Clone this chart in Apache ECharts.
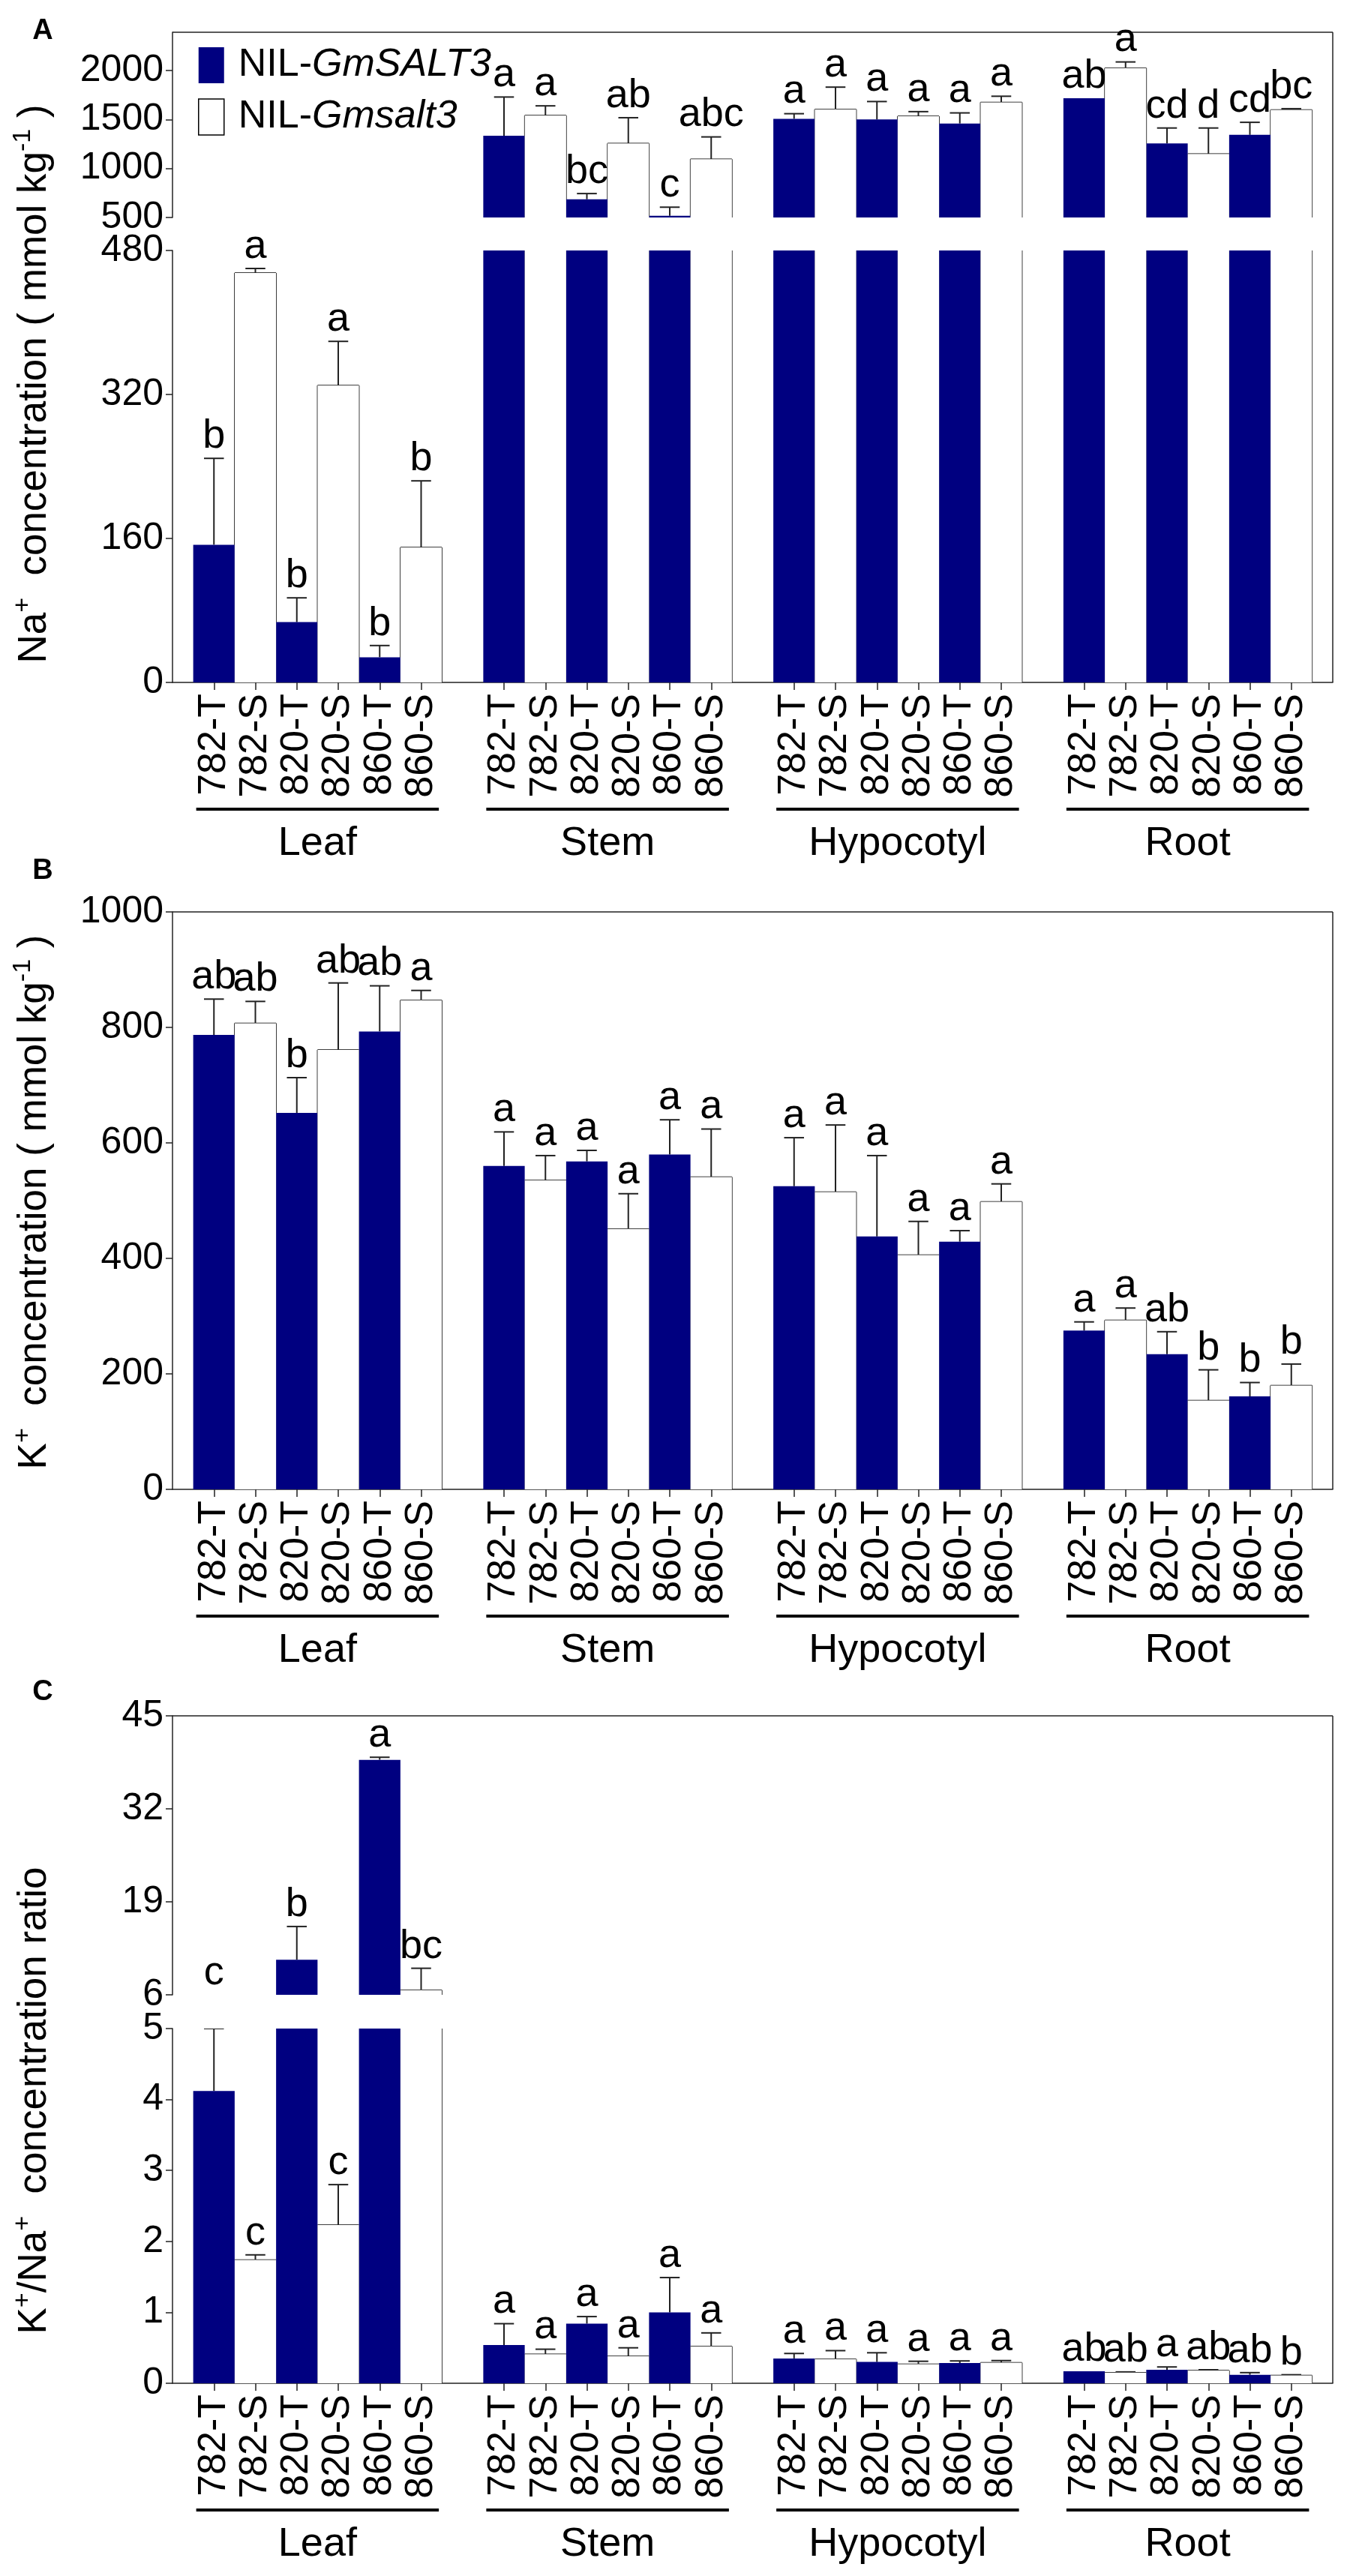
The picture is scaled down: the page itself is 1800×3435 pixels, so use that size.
<!DOCTYPE html>
<html>
<head>
<meta charset="utf-8">
<script src="https://cdn.jsdelivr.net/npm/echarts@6/dist/echarts.min.js"></script>
<style>
  html, body { margin: 0; padding: 0; background: #fff; }
  #chart { width: 1800px; height: 3435px; }
</style>
</head>
<body>
<div id="chart"></div>
<script>
const tissues = ['Leaf', 'Stem', 'Hypocotyl', 'Root'];
const lines = ['782-T', '782-S', '820-T', '820-S', '860-T', '860-S'];

// A: Na+ concentration (mmol/kg), tissue by tissue, same order as lines
const naMean = [153, 455, 67, 330, 28, 150,
  1335, 1541, 686, 1255, 518, 1095,
  1507, 1603, 1500, 1533, 1459, 1675,
  1716, 2025, 1255, 1149, 1343, 1598];
const naErr = [96, 5, 27, 49, 13, 74,
  394, 98, 58, 263, 87, 227,
  52, 227, 183, 47, 108, 62,
  0, 62, 158, 264, 128, 12];
const naSig = ['b', 'a', 'b', 'a', 'b', 'b',
  'a', 'a', 'bc', 'ab', 'c', 'abc',
  'a', 'a', 'a', 'a', 'a', 'a',
  'ab', 'a', 'cd', 'd', 'cd', 'bc'];

// B: K+ concentration (mmol/kg)
const kMean = [787, 807, 652, 761, 793, 847,
  560, 535, 568, 451, 580, 541,
  525, 515, 438, 406, 429, 498,
  275, 293, 234, 154, 161, 180];
const kErr = [62, 38, 61, 116, 79, 17,
  59, 43, 19, 61, 60, 83,
  84, 116, 140, 58, 19, 31,
  15, 21, 39, 53, 24, 37];
const kSig = ['ab', 'ab', 'b', 'ab', 'ab', 'a',
  'a', 'a', 'a', 'a', 'a', 'a',
  'a', 'a', 'a', 'a', 'a', 'a',
  'a', 'a', 'ab', 'b', 'b', 'b'];

// C: K+/Na+ ratio
const ratioMean = [4.12, 1.74, 10.9, 2.23, 38.85, 6.66,
  0.54, 0.41, 0.84, 0.38, 1.0, 0.52,
  0.35, 0.34, 0.30, 0.27, 0.285, 0.29,
  0.17, 0.15, 0.19, 0.18, 0.12, 0.11];
const ratioErr = [0.88, 0.07, 4.65, 0.57, 0.36, 3.05,
  0.30, 0.07, 0.10, 0.12, 0.49, 0.19,
  0.07, 0.12, 0.13, 0.04, 0.03, 0.03,
  0, 0.01, 0.04, 0.01, 0.03, 0.01];
const ratioSig = ['c', 'c', 'b', 'c', 'a', 'bc',
  'a', 'a', 'a', 'a', 'a', 'a',
  'a', 'a', 'a', 'a', 'a', 'a',
  'ab', 'ab', 'a', 'ab', 'ab', 'b'];

// tick labels
const naTicksHigh = [500, 1000, 1500, 2000];
const naTicksLow = [0, 160, 320, 480];
const kTicks = [0, 200, 400, 600, 800, 1000];
const ratioTicksHigh = [6, 19, 32, 45];
const ratioTicksLow = [0, 1, 2, 3, 4, 5];

const FONT = '"Liberation Sans", Arial, sans-serif';
const AXIS = '#222';
const BLUE = '#000080';
const X0 = 230, X1 = 1777;

// category slots: one empty slot before each tissue and at the end
const slots = ['pad-0'];
tissues.forEach((t, ti) => {
  lines.forEach(l => slots.push(t + '|' + l));
  slots.push('pad-' + (ti + 1));
});
const slotOf = (t, j) => 1 + 7 * t + j;

const panels = [
  { mean: naMean, err: naErr, sig: naSig, parts: [
    { top: 43, bottom: 290, ticks: naTicksHigh, max: 2390 },
    { top: 334, bottom: 910, ticks: naTicksLow }
  ] },
  { mean: kMean, err: kErr, sig: kSig, parts: [
    { top: 1216, bottom: 1986, ticks: kTicks }
  ] },
  { mean: ratioMean, err: ratioErr, sig: ratioSig, parts: [
    { top: 2288, bottom: 2660, ticks: ratioTicksHigh },
    { top: 2705, bottom: 3178, ticks: ratioTicksLow }
  ] }
];

const grid = [], xAxis = [], yAxis = [], series = [];

// which half of a broken axis gets the letter for a given error-bar top
function pickPart(panel, v) {
  if (panel.parts.length === 1) return { idx: 0, value: v };
  const high = panel.parts[0], low = panel.parts[1];
  if (v >= low.max - 1e-6) return { idx: 0, value: Math.max(v, high.min) };
  return { idx: 1, value: v };
}

panels.forEach(panel => {
  panel.parts.forEach(part => {
    part.min = part.ticks[0];
    if (part.max == null) part.max = part.ticks[part.ticks.length - 1];
  });
  panel.parts.forEach((part, pi) => {
    const g = grid.length;
    const isBottom = pi === panel.parts.length - 1;
    grid.push({ left: X0, width: X1 - X0, top: part.top, height: part.bottom - part.top });
    xAxis.push({
      gridIndex: g, type: 'category', data: slots, boundaryGap: false,
      axisLine: { show: isBottom, onZero: false, lineStyle: { color: AXIS, width: 1.5 } },
      axisTick: { show: isBottom, length: 10, interval: (i, v) => v.includes('|'),
        lineStyle: { color: AXIS, width: 1.5 } },
      axisLabel: { show: isBottom, interval: 0, rotate: 90, margin: 15,
        fontSize: 52, fontFamily: FONT, color: '#000',
        formatter: v => v.includes('|') ? v.split('|')[1] : '' },
      splitLine: { show: false }
    });
    yAxis.push({
      gridIndex: g, type: 'value', min: part.min, max: part.max,
      axisLine: { show: true, lineStyle: { color: AXIS, width: 1.5 } },
      axisTick: { show: true, length: 9, customValues: part.ticks, lineStyle: { color: AXIS, width: 1.5 } },
      axisLabel: { customValues: part.ticks, fontSize: 50, fontFamily: FONT, color: '#000', margin: 12,
        formatter: v => String(v) },
      splitLine: { show: false }
    });

    const blue = slots.map(() => '-');
    const white = slots.map(() => '-');
    const whiteItems = [];
    const errItems = [], errVals = [];
    const labItems = [], labText = [];
    panel.mean.forEach((m, k) => {
      const t = Math.floor(k / 6), j = k % 6, s = slotOf(t, j);
      if (j % 2 === 0) blue[s] = m;
      else { white[s] = m; whiteItems.push([s, m]); }
      errItems.push([s, m]);
      errVals.push(panel.err[k]);
      const where = pickPart(panel, m + panel.err[k]);
      if (where.idx === pi) {
        labItems.push([s, where.value]);
        labText.push(panel.sig[k]);
      }
    });

    series.push({
      type: 'bar', name: 'NIL-GmSALT3', xAxisIndex: g, yAxisIndex: g, data: blue,
      barWidth: '100%', barGap: '-100%', itemStyle: { color: BLUE }
    });
    series.push({
      type: 'bar', name: 'NIL-Gmsalt3', xAxisIndex: g, yAxisIndex: g, data: white,
      barWidth: '100%', barGap: '-100%', itemStyle: { color: '#fff', borderWidth: 0 }
    });
    // outline of the open bars, clipped to the grid so broken ends stay open
    series.push({
      type: 'custom', xAxisIndex: g, yAxisIndex: g, data: whiteItems, clip: true,
      encode: { x: 0, y: 1 },
      renderItem: (params, api) => {
        const [s, m] = whiteItems[params.dataIndex];
        const half = api.size([1, 0])[0] / 2;
        const topP = api.coord([s, m]);
        const baseP = api.coord([s, 0]);
        const st = { stroke: '#000', lineWidth: 1.5 };
        return { type: 'group', children: [
          { type: 'line', shape: { x1: topP[0] - half, y1: baseP[1], x2: topP[0] - half, y2: topP[1] }, style: st },
          { type: 'line', shape: { x1: topP[0] + half, y1: baseP[1], x2: topP[0] + half, y2: topP[1] }, style: st },
          { type: 'line', shape: { x1: topP[0] - half, y1: topP[1], x2: topP[0] + half, y2: topP[1] }, style: st }
        ] };
      }
    });
    // error bars (upper side only)
    series.push({
      type: 'custom', xAxisIndex: g, yAxisIndex: g, data: errItems, clip: true,
      encode: { x: 0, y: 1 },
      renderItem: (params, api) => {
        const e = errVals[params.dataIndex];
        if (!e) return;
        const [s, m] = errItems[params.dataIndex];
        const base = api.coord([s, m]);
        const tip = api.coord([s, m + e]);
        const half = api.size([1, 0])[0] * 0.24;
        const st = { stroke: AXIS, lineWidth: 2 };
        return { type: 'group', children: [
          { type: 'line', shape: { x1: base[0], y1: base[1], x2: tip[0], y2: tip[1] }, style: st },
          { type: 'line', shape: { x1: tip[0] - half, y1: tip[1], x2: tip[0] + half, y2: tip[1] }, style: st }
        ] };
      }
    });
    // significance letters
    series.push({
      type: 'custom', xAxisIndex: g, yAxisIndex: g, data: labItems, clip: false,
      encode: { x: 0, y: 1 },
      renderItem: (params, api) => {
        const p = api.coord(labItems[params.dataIndex]);
        return { type: 'text', x: p[0], y: p[1] - 2,
          style: { text: labText[params.dataIndex], align: 'center', verticalAlign: 'bottom',
            font: '54px ' + FONT, fill: '#000' } };
      }
    });
    // tissue underline and name
    if (isBottom) {
      const tisItems = tissues.map((_, t) => [slotOf(t, 0), part.min]);
      series.push({
        type: 'custom', xAxisIndex: g, yAxisIndex: g, data: tisItems, clip: false,
        encode: { x: 0, y: 1 },
        renderItem: (params, api) => {
          const t = params.dataIndex;
          const p0 = api.coord([slotOf(t, 0), part.min]);
          const p1 = api.coord([slotOf(t, 5), part.min]);
          const bw = api.size([1, 0])[0];
          return { type: 'group', children: [
            { type: 'line', shape: { x1: p0[0] - bw / 2 + 4, y1: p0[1] + 169, x2: p1[0] + bw / 2 - 4, y2: p0[1] + 169 },
              style: { stroke: '#000', lineWidth: 4 } },
            { type: 'text', x: (p0[0] + p1[0]) / 2, y: p0[1] + 215,
              style: { text: tissues[t], align: 'center', verticalAlign: 'middle', font: '54px ' + FONT, fill: '#000' } }
          ] };
        }
      });
    }
  });
});

// frame (top and right edges) and text
const graphic = [];
panels.forEach(panel => {
  const top = panel.parts[0].top, bottom = panel.parts[panel.parts.length - 1].bottom;
  graphic.push({ type: 'line', shape: { x1: X0, y1: top, x2: X1, y2: top }, style: { stroke: AXIS, lineWidth: 1.5 } });
  graphic.push({ type: 'line', shape: { x1: X1, y1: top, x2: X1, y2: bottom }, style: { stroke: AXIS, lineWidth: 1.5 } });
});
const rich = {
  t: { fontSize: 53, fontFamily: FONT, lineHeight: 64, fill: '#000' },
  s: { fontSize: 34, fontFamily: FONT, lineHeight: 64, verticalAlign: 'top', fill: '#000' }
};
const yTitles = [
  { text: '{t|Na}{s|+}{t|  concentration ( mmol kg}{s|-1}{t| )}', y: 512 },
  { text: '{t|K}{s|+}{t|  concentration ( mmol kg}{s|-1}{t| )}', y: 1603 },
  { text: '{t|K}{s|+}{t|/Na}{s|+}{t|  concentration ratio}', y: 2801 }
];
yTitles.forEach(o => graphic.push({
  type: 'text', x: 46, y: o.y, rotation: Math.PI / 2,
  style: { text: o.text, rich, align: 'center', verticalAlign: 'middle' }
}));
[['A', 42], ['B', 1162], ['C', 2257]].forEach(([l, y]) => graphic.push({
  type: 'text', x: 57, y,
  style: { text: l, align: 'center', verticalAlign: 'middle', font: 'bold 38px ' + FONT, fill: '#000' }
}));

const option = {
  animation: false,
  backgroundColor: '#fff',
  grid, xAxis, yAxis, series, graphic,
  legend: {
    data: [
      { name: 'NIL-GmSALT3' },
      { name: 'NIL-Gmsalt3', itemStyle: { color: '#fff', borderColor: '#000', borderWidth: 1.5 } }
    ],
    orient: 'vertical', left: 259, top: 56,
    itemWidth: 34, itemHeight: 48, itemGap: 17,
    icon: 'rect', selectedMode: false,
    formatter: n => '{n|NIL-}{i|' + n.slice(4) + '}',
    textStyle: {
      fontSize: 52, fontFamily: FONT, color: '#000',
      rich: {
        n: { fontSize: 52, fontFamily: FONT, padding: [0, 0, 0, 14] },
        i: { fontSize: 52, fontFamily: FONT, fontStyle: 'italic' }
      }
    }
  }
};

const chart = echarts.init(document.getElementById('chart'), null, { renderer: 'canvas' });
chart.setOption(option);
window.addEventListener('resize', () => chart.resize());
</script>
</body>
</html>
